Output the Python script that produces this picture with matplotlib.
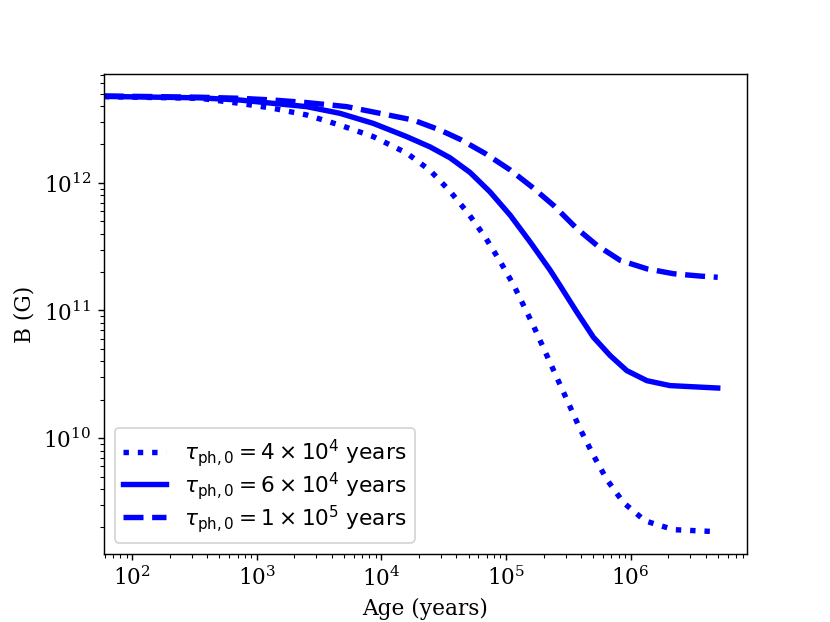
import matplotlib
matplotlib.use("Agg")
import matplotlib.pyplot as plt

# field decay curves (age in years, B in gauss)
age_40k = [59, 348, 729, 1352, 2506, 4645, 8590, 1.592e4, 2.455e4, 3.548e4, 4.98e4, 6.78e4,
           8.95e4, 1.159e5, 1.656e5, 2.55e5, 3.93e5, 5.02e5, 6.44e5, 8.75e5, 1.306e6,
           2.21e6, 5.0e6]
B_40k = [4.73e12, 4.59e12, 4.19e12, 3.83e12, 3.40e12, 2.83e12, 2.30e12, 1.71e12, 1.25e12,
         8.59e11, 5.74e11, 3.77e11, 2.43e11, 1.56e11, 7.62e10, 3.00e10, 1.18e10, 7.36e9,
         4.74e9, 3.13e9, 2.25e9, 1.92e9, 1.85e9]

age_60k = [59, 348, 729, 1352, 2506, 4645, 8590, 1.592e4, 2.455e4, 3.548e4, 5.14e4, 7.43e4,
           1.08e5, 1.56e5, 2.25e5, 2.72e5, 3.70e5, 5.02e5, 6.84e5, 9.31e5, 1.35e6, 2.07e6,
           3.61e6, 5.0e6]
B_60k = [4.75e12, 4.63e12, 4.45e12, 4.19e12, 3.95e12, 3.50e12, 2.92e12, 2.30e12, 1.91e12,
         1.57e12, 1.205e12, 8.49e11, 5.57e11, 3.44e11, 2.08e11, 1.56e11, 9.70e10, 6.18e10,
         4.44e10, 3.38e10, 2.82e10, 2.58e10, 2.51e10, 2.47e10]

age_100k = [59, 348, 729, 1352, 2506, 5248, 9727, 1.80e4, 2.95e4, 4.28e4, 6.78e4, 1.08e5,
            1.607e5, 2.40e5, 3.70e5, 5.36e5, 8.24e5, 1.35e6, 2.21e6, 3.61e6, 5.0e6]
B_100k = [4.79e12, 4.68e12, 4.59e12, 4.45e12, 4.25e12, 3.95e12, 3.50e12, 3.10e12, 2.59e12,
          2.19e12, 1.70e12, 1.26e12, 9.31e11, 6.67e11, 4.38e11, 3.24e11, 2.47e11, 2.12e11,
          1.94e11, 1.86e11, 1.82e11]

labels = [r'$\tau_{\rm ph,0} = 4\times10^4$ years',
          r'$\tau_{\rm ph,0} = 6\times10^4$ years',
          r'$\tau_{\rm ph,0} = 1\times10^5$ years']

plt.rcParams['font.family'] = 'DejaVu Serif'
plt.rcParams['font.size'] = 12

fig, ax = plt.subplots(figsize=(6.4, 4.8), dpi=129.7)

ax.plot(age_40k, B_40k, color='b', ls=':', lw=3, label=labels[0])
ax.plot(age_60k, B_60k, color='b', ls='-', lw=3, label=labels[1])
ax.plot(age_100k, B_100k, color='b', ls='--', lw=3, label=labels[2])

ax.set_xscale('log')
ax.set_yscale('log')
ax.set_xlim(59, 8.6e6)

ax.set_xlabel('Age (years)')
ax.set_ylabel('B (G)')

ax.legend(loc='lower left', prop={'family': 'DejaVu Sans', 'size': 12}, labelspacing=0.03)

fig.savefig('out.png', dpi=129.7)
